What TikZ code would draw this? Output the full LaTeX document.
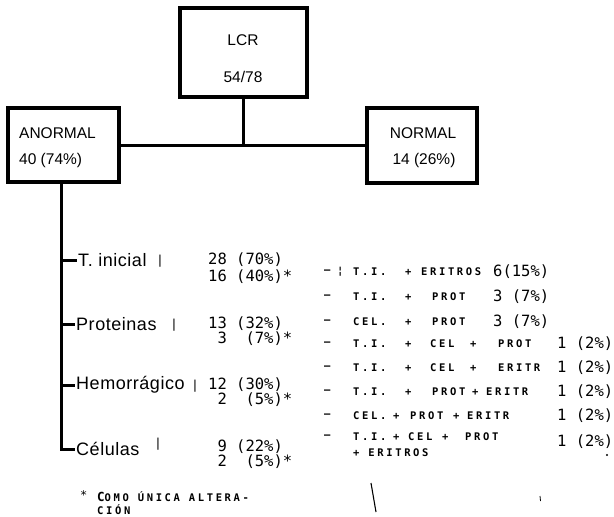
\documentclass[tikz,border=0pt]{standalone}
\usepackage{fontspec}
\setmainfont{Liberation Sans}
\newfontfamily\numfont{DejaVu Sans Mono}
\newfontfamily\capfont[LetterSpace=25]{DejaVu Sans Mono Bold}
\newfontfamily\brfont[LetterSpace=3]{Liberation Sans}
\begin{document}
\begin{tikzpicture}[x=1pt,y=-1pt,
  frame/.style={draw, line width=3.2pt, rectangle, inner sep=0pt},
  boxtxt/.style={inner sep=0pt, font=\fontsize{15.5}{17}\selectfont},
  conn/.style={line width=3pt},
  branch/.style={anchor=west, inner sep=1pt, font=\brfont\fontsize{18}{20}\selectfont},
  sepbar/.style={inner sep=0pt, font=\fontsize{13}{15}\selectfont},
  num/.style={anchor=west, inner sep=0pt, font=\numfont\fontsize{15.5}{17}\selectfont},
  captxt/.style={anchor=west, inner sep=0pt, font=\capfont\fontsize{10.5}{12}\selectfont}]
\useasboundingbox (0,0) rectangle (614,517);
\fill[white] (0,0) rectangle (614,517);

% boxes
\node[frame, minimum width=127pt, minimum height=89pt] (lcr) at (243.5,52.5) {};
\node[boxtxt] (lcrt) at (243,40) {LCR};
\node[boxtxt] (lcrn) at (243,77) {54/78};

\node[frame, minimum width=111pt, minimum height=74pt] (anormal) at (63.5,145) {};
\node[boxtxt, anchor=west] (anot) at (19,133) {ANORMAL};
\node[boxtxt, anchor=west] (anon) at (19,160) {40 (74\%)};

\node[frame, minimum width=110pt, minimum height=75pt] (normal) at (422,145.5) {};
\node[boxtxt] (normt) at (423,133) {NORMAL};
\node[boxtxt] (normn) at (424,160) {14 (26\%)};

% connectors
\draw[conn] (anormal.east) -- (normal.west |- anormal.east);
\draw[conn] (lcr.south) -- (lcr.south |- anormal.east);

% branches
\coordinate (trunk) at (61,0);
\node[branch] (ti) at (77,260) {T. inicial};
\node[branch] (pr) at (75,324) {Proteinas};
\node[branch] (he) at (75,385) {Hemorrágico};
\node[branch] (ce) at (75,449) {Células};
\coordinate (corner) at (trunk |- ce.west);
\draw[conn] (anormal.south -| trunk) -- (corner) -- (ce.west);
\draw[conn] (trunk |- ti.west) -- (ti.west);
\draw[conn] (trunk |- pr.west) -- (pr.west);
\draw[conn] (trunk |- he.west) -- (he.west);

\node[sepbar] (s1) at (160,261) {|};
\node[sepbar] (s2) at (174,325) {|};
\node[sepbar] (s3) at (195,386) {|};
\node[sepbar] (s4) at (158,444) {|};

% counts
\node[num] (n1a) at (208,260) {28 (70\%)};
\node[num] (n1b) at (208,277) {16 (40\%)*};
\node[num] (n2a) at (208,324) {13 (32\%)};
\node[num] (n2b) at (208,339) {\phantom{0}3\phantom{0} (7\%)*};
\node[num] (n3a) at (208,385) {12 (30\%)};
\node[num] (n3b) at (208,400) {\phantom{0}2\phantom{0} (5\%)*};
\node[num] (n4a) at (208,447) {\phantom{0}9 (22\%)};
\node[num] (n4b) at (208,462) {\phantom{0}2\phantom{0} (5\%)*};

% right column
\node[captxt] (r1a) at (324,272) {–};
\node[captxt] (r1b) at (337,272) {¦};
\node[captxt] (r1c) at (353,272) {T.I.};
\node[captxt] (r1d) at (405,272) {+};
\node[captxt] (r1e) at (421,272) {ERITROS};
\node[num] (r1f) at (493,272) {6(15\%)};

\node[captxt] (r2a) at (324,297) {–};
\node[captxt] (r2c) at (353,297) {T.I.};
\node[captxt] (r2d) at (405,297) {+};
\node[captxt] (r2e) at (432,297) {PROT};
\node[num] (r2f) at (493,297) {3 (7\%)};

\node[captxt] (r3a) at (324,322) {–};
\node[captxt] (r3c) at (353,322) {CEL.};
\node[captxt] (r3d) at (405,322) {+};
\node[captxt] (r3e) at (432,322) {PROT};
\node[num] (r3f) at (493,322) {3 (7\%)};

\node[captxt] (r4a) at (324,344) {–};
\node[captxt] (r4c) at (353,344) {T.I.};
\node[captxt] (r4d) at (405,344) {+};
\node[captxt] (r4e) at (430,344) {CEL};
\node[captxt] (r4g) at (470,344) {+};
\node[captxt] (r4h) at (498,344) {PROT};
\node[num] (r4f) at (557,344) {1 (2\%)};

\node[captxt] (r5a) at (324,368) {–};
\node[captxt] (r5c) at (353,368) {T.I.};
\node[captxt] (r5d) at (405,368) {+};
\node[captxt] (r5e) at (430,368) {CEL};
\node[captxt] (r5g) at (470,368) {+};
\node[captxt] (r5h) at (498,368) {ERITR};
\node[num] (r5f) at (557,368) {1 (2\%)};

\node[captxt] (r6a) at (324,392) {–};
\node[captxt] (r6c) at (353,392) {T.I.};
\node[captxt] (r6d) at (405,392) {+};
\node[captxt] (r6e) at (432,392) {PROT};
\node[captxt] (r6g) at (472,392) {+};
\node[captxt] (r6h) at (486,392) {ERITR};
\node[num] (r6f) at (557,392) {1 (2\%)};

\node[captxt] (r7a) at (324,416) {–};
\node[captxt] (r7c) at (353,416) {CEL.};
\node[captxt] (r7d) at (393,416) {+};
\node[captxt] (r7e) at (410,416) {PROT};
\node[captxt] (r7g) at (453,416) {+};
\node[captxt] (r7h) at (467,416) {ERITR};
\node[num] (r7f) at (557,416) {1 (2\%)};

\node[captxt] (r8a) at (324,437) {–};
\node[captxt] (r8c) at (353,437) {T.I.};
\node[captxt] (r8d) at (393,437) {+};
\node[captxt] (r8e) at (408,437) {CEL};
\node[captxt] (r8g) at (442,437) {+};
\node[captxt] (r8h) at (465,437) {PROT};
\node[num] (r8f) at (557,442) {1 (2\%)};
\node[captxt] (r8i) at (353,453) {+ ERITROS};

% footnote
\node[num, font=\numfont\fontsize{12}{13}\selectfont] (fs) at (80,495) {*};
\node[captxt] (f1) at (97,497) {{\fontsize{12.5}{13}\selectfont C}OMO ÚNICA ALTERA-};
\node[captxt] (f2) at (97,510) {CIÓN};

% stray marks of the scan
\draw[line width=1.1pt] (371,483) -- (376,512);
\fill (607,455) circle (1.2pt);
\draw[line width=0.8pt] (540,496) -- (540.5,501);
\end{tikzpicture}
\end{document}
